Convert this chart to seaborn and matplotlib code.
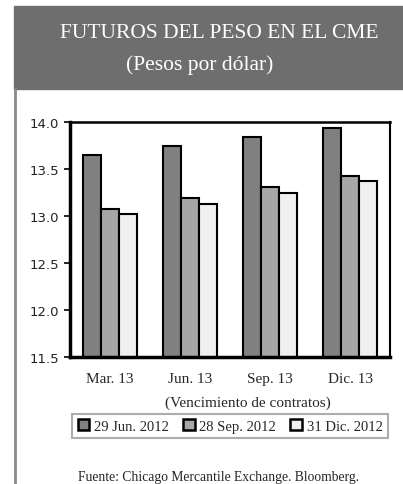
import matplotlib
matplotlib.use("Agg")
import matplotlib.pyplot as plt
import matplotlib.patches as mpatches
from matplotlib.lines import Line2D
import seaborn as sns
import pandas as pd

contracts = ["Mar. 13", "Jun. 13", "Sep. 13", "Dic. 13"]
series_names = ["29 Jun. 2012", "28 Sep. 2012", "31 Dic. 2012"]
s_jun = [13.65, 13.75, 13.84, 13.94]
s_sep = [13.07, 13.19, 13.31, 13.43]
s_dic = [13.02, 13.13, 13.25, 13.37]
yticks = [11.5, 12.0, 12.5, 13.0, 13.5, 14.0]

rows = []
for name, vals in zip(series_names, [s_jun, s_sep, s_dic]):
    for c, v in zip(contracts, vals):
        rows.append({"Contrato": c, "Serie": name, "Valor": v})
df = pd.DataFrame(rows)

sns.set_theme(style="white")
plt.rcParams["font.family"] = ["Liberation Serif", "DejaVu Serif"]

colors = ["#808080", "#a6a6a6", "#f0f0f0"]
W, H = 403, 485
fig = plt.figure(figsize=(W / 100, H / 100), dpi=100)

# header band
fig.patches.append(mpatches.Rectangle((14 / W, 1 - 90 / H), 1 - 14 / W, 83 / H,
                                      transform=fig.transFigure, color="#6e6e6e", zorder=0))
fig.lines.append(Line2D([15 / W, 15 / W], [0, 1 - 90 / H], transform=fig.transFigure,
                        color="#8a8a8a", lw=2))
fig.text(219 / W, 1 - 33 / H, "FUTUROS DEL PESO EN EL CME", ha="center", va="center",
         color="white", fontsize=15.5)
fig.text(200 / W, 1 - 65 / H, "(Pesos por dólar)", ha="center", va="center",
         color="white", fontsize=15.5)

ax = fig.add_axes([70 / W, 1 - 358 / H, 320 / W, 235 / H])
sns.barplot(data=df, x="Contrato", y="Valor", hue="Serie", order=contracts,
            hue_order=series_names, palette=colors, width=0.67, edgecolor="black",
            linewidth=1.5, saturation=1, ax=ax, legend=False)
ax.set_ylim(11.5, 14.0)
ax.set_xlim(-0.5, 3.5)
ax.set_yticks(yticks)
ax.set_yticklabels([f"{v:.1f}" for v in yticks], family="DejaVu Sans", fontsize=9.5,
                   color="#222222")
ax.set_xticks(range(4))
ax.set_xticklabels(contracts, fontsize=11)
ax.set_xticks([0.5, 1.5, 2.5], minor=True)
ax.tick_params(axis="x", which="major", length=0, pad=11)
ax.tick_params(axis="x", which="minor", length=4, width=1.5, color="black", direction="out")
ax.tick_params(axis="y", length=4, width=1.2, color="black", direction="out", left=True, pad=4)
ax.set_xlabel("")
ax.set_ylabel("")
for side, lw in [("left", 2.5), ("bottom", 2.5), ("top", 1.8), ("right", 1.5)]:
    ax.spines[side].set_visible(True)
    ax.spines[side].set_color("black")
    ax.spines[side].set_linewidth(lw)

fig.text(248 / W, 1 - 403 / H, "(Vencimiento de contratos)", ha="center", va="center",
         fontsize=11)

handles = [mpatches.Patch(facecolor=c, edgecolor="black", linewidth=1.8) for c in colors]
leg = fig.legend(handles, series_names, loc="center", bbox_to_anchor=(230 / W, 1 - 427 / H),
                 ncol=3, fontsize=10.5, frameon=True, fancybox=False, handlelength=0.8,
                 handleheight=0.8, handletextpad=0.3, columnspacing=1.0, borderpad=0.35)
leg.get_frame().set_edgecolor("#999999")
leg.get_frame().set_linewidth(1.5)

fig.text(78 / W, 1 - 478 / H, "Fuente: Chicago Mercantile Exchange. Bloomberg.",
         ha="left", va="center", fontsize=9.8)

fig.savefig("out.png", dpi=100)
